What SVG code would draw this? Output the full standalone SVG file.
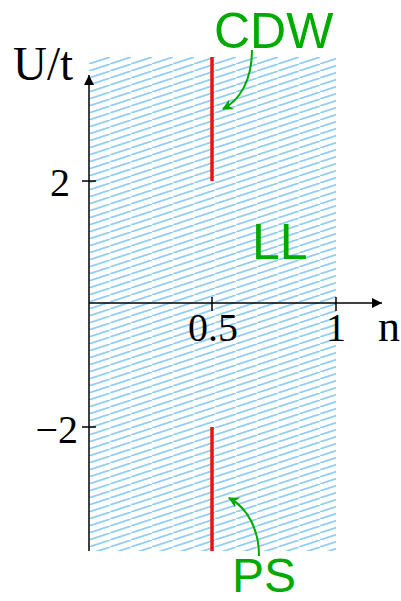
<svg xmlns="http://www.w3.org/2000/svg" width="401" height="601" viewBox="0 0 401 601">
<defs>
<pattern id="hatch" patternUnits="userSpaceOnUse" width="21" height="7" patternTransform="translate(89,57)">
<line x1="-21" y1="14" x2="42" y2="-7" stroke="#92cdf4" stroke-width="1.7"/>
</pattern>
<marker id="blk" viewBox="0 0 10 10" refX="10" refY="5" markerWidth="10" markerHeight="10" markerUnits="userSpaceOnUse" orient="auto">
<path d="M0,0 L10,5 L0,10 Z" fill="#000"/>
</marker>
<marker id="grn" viewBox="0 0 10 10" refX="9" refY="5" markerWidth="13" markerHeight="11" markerUnits="userSpaceOnUse" orient="auto">
<path d="M0,0 L10,5 L0,10 L3,5 Z" fill="#00aa00"/>
</marker>
<style>
.ax{stroke:#000;stroke-width:1.5;fill:none}
.red{stroke:#ee1111;stroke-width:3.5}
.num{font-family:"Liberation Serif",serif;fill:#000}
.lbl{font-family:"Liberation Sans",sans-serif;fill:#00aa00;font-size:50px}
.garr{stroke:#00aa00;stroke-width:2;fill:none}
</style>
</defs>
<g id="region">
<rect x="89" y="57" width="247" height="494" fill="url(#hatch)"/>
</g>
<g id="axes">
<line class="ax" x1="89" y1="551" x2="89" y2="75" marker-end="url(#blk)"/>
<line class="ax" x1="89" y1="303" x2="382" y2="303" marker-end="url(#blk)"/>
<line class="ax" x1="212" y1="297" x2="212" y2="311"/>
<line class="ax" x1="336" y1="297" x2="336" y2="311"/>
<line class="ax" x1="82" y1="181" x2="96" y2="181"/>
<line class="ax" x1="82" y1="427" x2="96" y2="427"/>
<text class="num" x="13" y="80" font-size="48" textLength="60" lengthAdjust="spacingAndGlyphs">U/t</text>
<text class="num" x="60" y="196" font-size="40" text-anchor="middle">2</text>
<text class="num" x="78" y="443" font-size="40" text-anchor="end">−2</text>
<text class="num" x="213" y="341" font-size="40" text-anchor="middle">0.5</text>
<text class="num" x="336" y="341" font-size="40" text-anchor="middle">1</text>
<text class="num" x="378" y="341" font-size="44">n</text>
</g>
<g id="CDW">
<line class="red" x1="212" y1="57" x2="212" y2="181"/>
<text class="lbl" x="214" y="48">CDW</text>
</g>
<g id="PS">
<line class="red" x1="212" y1="427" x2="212" y2="551"/>
<text class="lbl" x="232" y="592" style="font-size:48px">PS</text>
</g>
<g id="LL">
<text class="lbl" x="252" y="259">LL</text>
</g>
<g id="connectors">
<path class="garr" d="M252,50 C252,80 240,100 223,109" marker-end="url(#grn)"/>
<path class="garr" d="M259,556 C259,530 248,508 229,498" marker-end="url(#grn)"/>
</g>
</svg>
